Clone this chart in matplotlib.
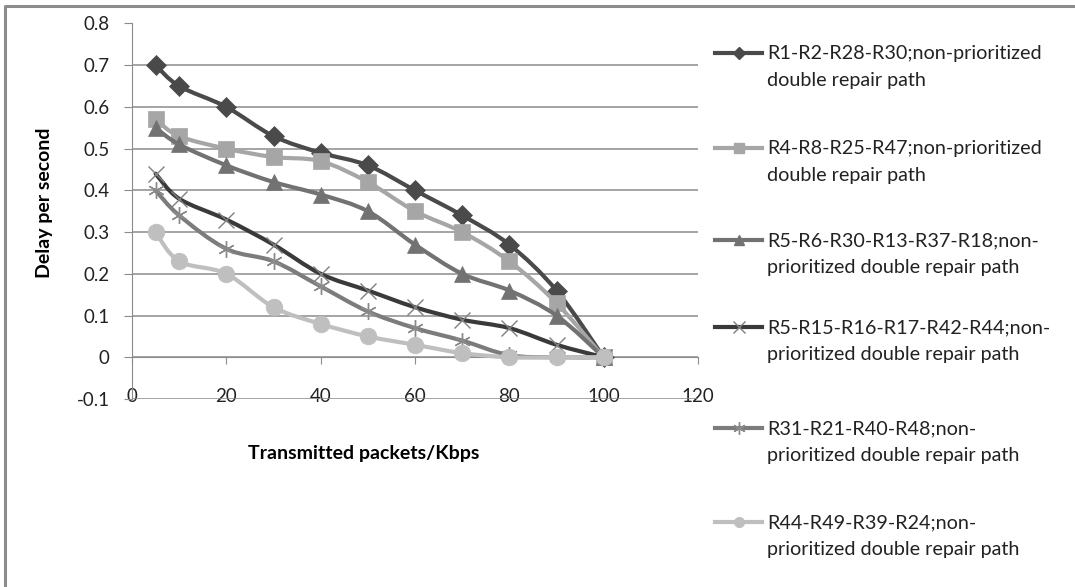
import numpy as np
import matplotlib.pyplot as plt
from matplotlib.path import Path
from matplotlib.patches import PathPatch
from matplotlib.lines import Line2D

# Transmitted packets (Kbps)
x_kbps = [5, 10, 20, 30, 40, 50, 60, 70, 80, 90, 100]

# Delay per second for each repair path
delay_r1 = [0.70, 0.65, 0.60, 0.53, 0.49, 0.46, 0.40, 0.34, 0.27, 0.16, 0.0]
delay_r4 = [0.57, 0.53, 0.50, 0.48, 0.47, 0.42, 0.35, 0.30, 0.23, 0.13, 0.0]
delay_r5a = [0.55, 0.51, 0.46, 0.42, 0.39, 0.35, 0.27, 0.20, 0.16, 0.10, 0.0]
delay_r5b = [0.44, 0.38, 0.33, 0.27, 0.20, 0.16, 0.12, 0.09, 0.07, 0.03, 0.0]
delay_r31 = [0.40, 0.34, 0.26, 0.23, 0.17, 0.11, 0.07, 0.04, 0.005, 0.0, 0.0]
delay_r44 = [0.30, 0.23, 0.20, 0.12, 0.08, 0.05, 0.03, 0.01, 0.0, 0.0, 0.0]

labels = [
    "R1-R2-R28-R30;non-prioritized\ndouble repair path",
    "R4-R8-R25-R47;non-prioritized\ndouble repair path",
    "R5-R6-R30-R13-R37-R18;non-\nprioritized double repair path",
    "R5-R15-R16-R17-R42-R44;non-\nprioritized double repair path",
    "R31-R21-R40-R48;non-\nprioritized double repair path",
    "R44-R49-R39-R24;non-\nprioritized double repair path",
]

series = [delay_r1, delay_r4, delay_r5a, delay_r5b, delay_r31, delay_r44]
line_colors = ["#4a4a4a", "#a6a6a6", "#727272", "#3a3a3a", "#7c7c7c", "#bfbfbf"]
marker_colors = ["#4a4a4a", "#a6a6a6", "#727272", "#808080", "#8a8a8a", "#bfbfbf"]
markers = ["D", "s", "^", "x", (6, 2, 0), "o"]
marker_sizes = [10, 12, 11, 12, 12, 12]
legend_sizes = [6, 7, 7, 9, 9, 7]

W, H = 1075, 587
# vertical pixel position of each legend entry (first text line)
legend_rows = [53, 148, 240, 327, 428, 522]


def smooth_path(xs, ys):
    # Catmull-Rom style bezier through the points (spreadsheet "smoothed line")
    pts = np.column_stack([xs, ys]).astype(float)
    n = len(pts)
    verts = [pts[0]]
    codes = [Path.MOVETO]
    for i in range(n - 1):
        p0 = pts[i - 1] if i > 0 else pts[i]
        p1 = pts[i]
        p2 = pts[i + 1]
        p3 = pts[i + 2] if i + 2 < n else pts[i + 1]
        verts += [p1 + (p2 - p0) / 6, p2 - (p3 - p1) / 6, p2]
        codes += [Path.CURVE4] * 3
    return Path(verts, codes)


plt.rcParams['font.family'] = ['Lato', 'DejaVu Sans']

fig = plt.figure(figsize=(W / 100, H / 100), dpi=100)
ax = fig.add_axes([132 / W, 1 - 399 / H, 566 / W, 375.5 / H])

ax.set_xlim(0, 120)
ax.set_ylim(-0.1, 0.8)
ax.set_xticks(np.arange(0, 121, 20))
ax.set_yticks(np.round(np.arange(-0.1, 0.81, 0.1), 1))
ax.set_yticklabels(["-0.1", "0", "0.1", "0.2", "0.3", "0.4", "0.5", "0.6", "0.7", "0.8"])

ax.grid(axis='y', color="#8c8c8c", lw=1.1)
ax.set_axisbelow(True)
for side in ["top", "right"]:
    ax.spines[side].set_visible(False)
ax.spines["bottom"].set_position(("data", 0))
ax.spines["bottom"].set_color("#8c8c8c")
ax.spines["left"].set_color("#8c8c8c")
ax.tick_params(axis='y', direction='out', length=6, color="#8c8c8c", pad=10,
               labelsize=13.5, labelcolor="#222222")
ax.tick_params(axis='x', direction='out', length=5, color="#8c8c8c", pad=17,
               labelsize=13.5, labelcolor="#222222")

for i, ys in enumerate(series):
    ax.add_patch(PathPatch(smooth_path(x_kbps, ys), fill=False,
                           edgecolor=line_colors[i], lw=3,
                           capstyle='round', joinstyle='round', zorder=3 + 2 * i))
    thin = markers[i] == "x" or isinstance(markers[i], tuple)
    ax.plot(x_kbps, ys, ls='none', marker=markers[i], ms=marker_sizes[i],
            color=marker_colors[i], mec=marker_colors[i],
            mew=1.0 if thin else 0.5, zorder=4 + 2 * i)

ax.set_xlabel("Transmitted packets/Kbps", fontsize=14, fontweight='bold',
              va='center')
ax.xaxis.set_label_coords((364 - 132) / 566, (399 - 453) / 375.5)
ax.set_ylabel("Delay per second", fontsize=14, fontweight='bold', va='center')
ax.yaxis.set_label_coords((45 - 132) / 566, (399 - 203) / 375.5)

# legend drawn entry by entry at the right of the plot
for i, label in enumerate(labels):
    yf = 1 - legend_rows[i] / H
    fig.add_artist(Line2D([715 / W, 762 / W], [yf, yf], transform=fig.transFigure,
                          color=line_colors[i], lw=3))
    fig.add_artist(Line2D([739 / W], [yf], transform=fig.transFigure, ls='none',
                          marker=markers[i], ms=legend_sizes[i],
                          mfc=marker_colors[i], mec=marker_colors[i], mew=1.0))
    fig.text(767 / W, 1 - (legend_rows[i] - 8) / H, label, fontsize=14.2,
             color="#222222", va='top', ha='left', linespacing=1.7)

# chart area border (left and top edges)
fig.add_artist(Line2D([5 / W, 5 / W, 1.0], [0.0, 1 - 6 / H, 1 - 6 / H],
                      transform=fig.transFigure, color="#8c8c8c", lw=2.2))

fig.savefig("out.png", dpi=100)
